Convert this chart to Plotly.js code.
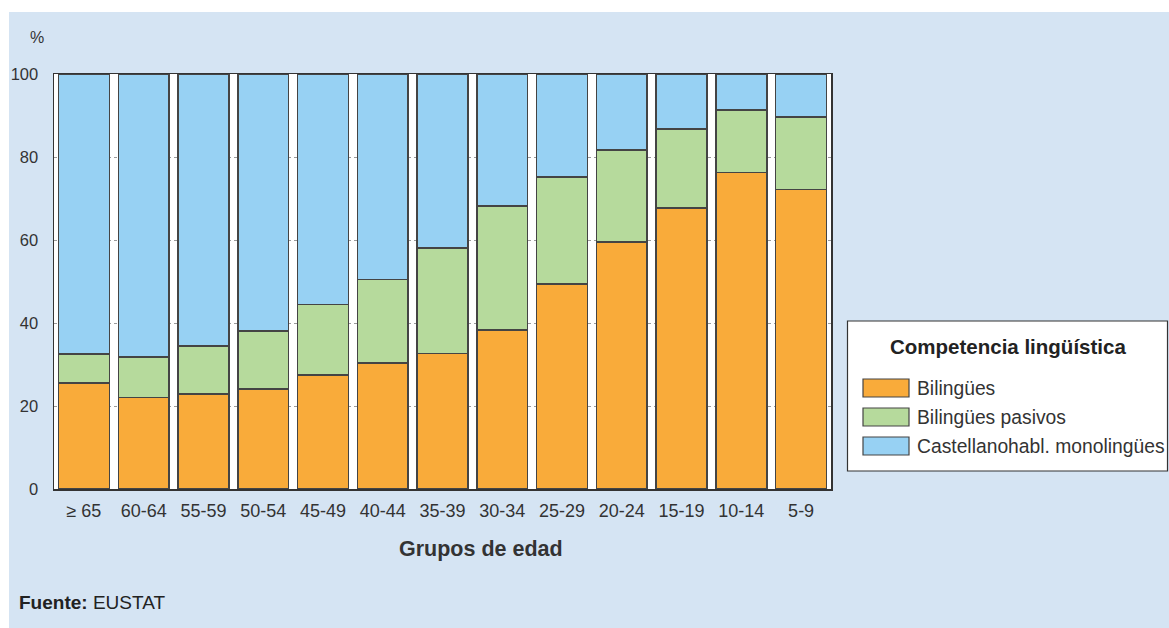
<!DOCTYPE html>
<html>
<head>
<meta charset="utf-8">
<script src="https://cdn.plot.ly/plotly-3.0.1.min.js"></script>
<style>
  html, body { margin: 0; padding: 0; background: #ffffff; width: 1169px; height: 628px; overflow: hidden; }
  #chart { position: absolute; left: 9px; top: 12px; width: 1160px; height: 616px; }
</style>
</head>
<body>
<div id="chart"></div>
<script>
const categories = ['≥ 65','60-64','55-59','50-54','45-49','40-44','35-39','30-34','25-29','20-24','15-19','10-14','5-9'];
const bilingues = [25.6, 22.0, 22.9, 24.1, 27.5, 30.4, 32.6, 38.3, 49.4, 59.5, 67.7, 76.3, 72.2];
const bilinguesPasivos = [6.9, 9.8, 11.6, 14.0, 16.9, 20.1, 25.5, 29.9, 25.8, 22.2, 19.0, 15.0, 17.5];
const monolingues = [67.5, 68.2, 65.5, 61.9, 55.6, 49.5, 41.9, 31.8, 24.8, 18.3, 13.3, 8.7, 10.3];
const seriesNames = ['Bilingües', 'Bilingües pasivos', 'Castellanohabl. monolingües'];
const yTicks = [0, 20, 40, 60, 80, 100];

const colors = ['#F9AB3A', '#B6DA9C', '#97D1F3'];
const lineStyle = {color: '#444444', width: 1.5};
const FONT = 'Liberation Sans, Arial, sans-serif';

const seriesValues = [bilingues, bilinguesPasivos, monolingues];
const traces = seriesValues.map((vals, i) => ({
  type: 'bar',
  name: seriesNames[i],
  x: categories,
  y: vals,
  marker: {color: colors[i], line: lineStyle},
  showlegend: false,
  hoverinfo: 'x+y+name'
}));

// layout geometry helpers (page pixel -> paper coords)
const W = 1160, H = 616, L = 45, T = 62, PW = 777, PH = 415;
const px = x => (x - 9 - L) / PW;
const py = y => 1 - (y - 12 - T) / PH;

const shapes = [];
const annotations = [];

// custom legend box
shapes.push({type: 'rect', xref: 'paper', yref: 'paper',
  x0: px(847.5), x1: px(1167.5), y0: py(471), y1: py(321),
  line: {color: '#333333', width: 1.2}, fillcolor: '#ffffff', layer: 'above'});
annotations.push({xref: 'paper', yref: 'paper', x: px(1008), y: py(346),
  text: '<b>Competencia lingüística</b>', showarrow: false,
  font: {family: FONT, size: 20.5, color: '#222222'}, xanchor: 'center', yanchor: 'middle'});
const swY = [388, 417, 446];
seriesNames.forEach((n, i) => {
  shapes.push({type: 'rect', xref: 'paper', yref: 'paper',
    x0: px(863), x1: px(909), y0: py(swY[i] + 9), y1: py(swY[i] - 9),
    line: {color: '#444444', width: 1.2}, fillcolor: colors[i], layer: 'above'});
  annotations.push({xref: 'paper', yref: 'paper', x: px(915), y: py(swY[i]),
    text: n, showarrow: false, xanchor: 'left', yanchor: 'middle',
    font: {family: FONT, size: 19.3, color: '#333333'}});
});

// % label
annotations.push({xref: 'paper', yref: 'paper', x: px(37), y: py(38),
  text: '%', showarrow: false, xanchor: 'center', yanchor: 'middle',
  font: {family: FONT, size: 16, color: '#333333'}});
// x axis title (offset to the right as in the original)
annotations.push({xref: 'paper', yref: 'paper', x: px(481), y: py(549),
  text: '<b>Grupos de edad</b>', showarrow: false, xanchor: 'center', yanchor: 'middle',
  font: {family: FONT, size: 21.5, color: '#333333'}});
// source
annotations.push({xref: 'paper', yref: 'paper', x: px(17), y: py(602),
  text: '<b>Fuente:</b> EUSTAT', showarrow: false, xanchor: 'left', yanchor: 'middle',
  font: {family: FONT, size: 19, color: '#222222'}});

const layout = {
  width: W, height: H,
  margin: {l: L, r: W - L - PW, t: T, b: H - T - PH, pad: 0},
  paper_bgcolor: '#D5E4F3',
  plot_bgcolor: '#ffffff',
  barmode: 'stack',
  bargap: 0.15,
  font: {family: FONT, size: 18, color: '#333333'},
  xaxis: {
    type: 'category',
    showline: true, mirror: true, linecolor: '#333333', linewidth: 1.5,
    showgrid: false, ticks: '', ticklabelstandoff: 5,
    tickfont: {family: FONT, size: 18, color: '#333333'},
    fixedrange: true
  },
  yaxis: {
    range: [0, 100],
    tickvals: yTicks,
    showline: true, mirror: true, linecolor: '#333333', linewidth: 1.5,
    showgrid: true, gridcolor: '#9a9a9a', griddash: 'dot', gridwidth: 1,
    zeroline: false, ticks: '', ticklabelstandoff: 11,
    tickfont: {family: FONT, size: 16.5, color: '#333333'},
    fixedrange: true
  },
  shapes: shapes,
  annotations: annotations
};

Plotly.newPlot('chart', traces, layout, {displayModeBar: false, staticPlot: true});
</script>
</body>
</html>
